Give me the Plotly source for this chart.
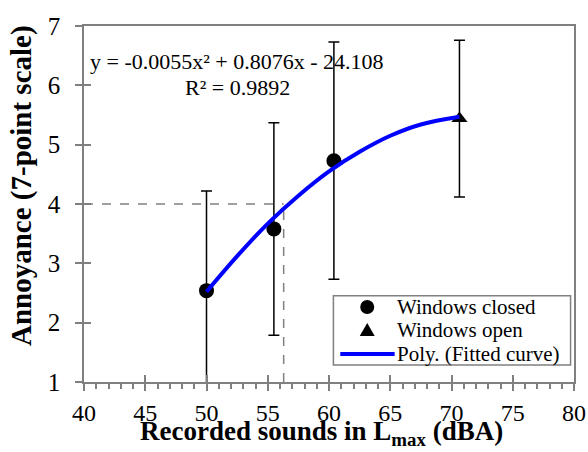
import plotly.graph_objects as go

# Data
closed_x = [50.0, 55.5, 60.4]
closed_y = [2.54, 3.58, 4.73]
closed_err = [1.68, 1.79, 2.0]

open_x = [70.65]
open_y = [5.44]
open_err = [1.32]

curve_x = [50.0, 52.5, 55.0, 57.5, 60.0, 62.5, 65.0, 67.5, 70.65]
curve_y = [2.52, 3.12, 3.67, 4.14, 4.55, 4.88, 5.15, 5.34, 5.47]

guide_x = 56.3
guide_y = 4.0

x_ticks = [40, 45, 50, 55, 60, 65, 70, 75, 80]
y_ticks = [1, 2, 3, 4, 5, 6, 7]

legend_names = ["Windows closed", "Windows open", "Poly. (Fitted curve)"]
x_title = "<b>Recorded sounds in L<sub>max</sub> (dBA)</b>"
y_title = "<b>Annoyance (7-point scale)</b>"

FONT = "Liberation Serif"
GREY = "#808080"
BLUE = "#0000FF"

fig = go.Figure()

# guide dashed lines
fig.add_trace(go.Scatter(x=[40, guide_x], y=[guide_y, guide_y], mode="lines",
                         line=dict(color=GREY, width=1.5, dash="dash"),
                         showlegend=False, hoverinfo="skip"))
fig.add_trace(go.Scatter(x=[guide_x, guide_x], y=[1, guide_y], mode="lines",
                         line=dict(color=GREY, width=1.5, dash="dash"),
                         showlegend=False, hoverinfo="skip"))

fig.add_trace(go.Scatter(x=closed_x, y=closed_y, mode="markers", name=legend_names[0],
                         marker=dict(symbol="circle", size=15, color="black"),
                         error_y=dict(type="data", array=closed_err, color="black",
                                      thickness=1.5, width=5.5),
                         showlegend=False))
fig.add_trace(go.Scatter(x=open_x, y=open_y, mode="markers", name=legend_names[1],
                         marker=dict(symbol="triangle-up", size=14, color="black"),
                         error_y=dict(type="data", array=open_err, color="black",
                                      thickness=1.5, width=5.5),
                         showlegend=False))
fig.add_trace(go.Scatter(x=curve_x, y=curve_y, mode="lines", name=legend_names[2],
                         line=dict(color=BLUE, width=4, shape="spline"),
                         showlegend=False))

# dummy trace for overlay axes (inside half of crossing ticks)
fig.add_trace(go.Scatter(x=[40], y=[1], xaxis="x2", yaxis="y2", mode="markers",
                         marker=dict(opacity=0), showlegend=False, hoverinfo="skip"))

# ---- legend box (drawn as layout decoration) ----
lg_x0, lg_x1, lg_y0, lg_y1 = 0.509, 0.993, 0.048, 0.242
sym_x = 0.578
txt_x = 0.6347
rows_y = [0.2107, 0.1447, 0.0787]

shapes = [
    dict(type="rect", xref="paper", yref="paper", x0=lg_x0, x1=lg_x1, y0=lg_y0, y1=lg_y1,
         line=dict(color=GREY, width=1.5), fillcolor="white", layer="above"),
    dict(type="circle", xref="paper", yref="paper", xsizemode="pixel", ysizemode="pixel",
         xanchor=sym_x, yanchor=rows_y[0], x0=-7, x1=7, y0=-7, y1=7,
         fillcolor="black", line=dict(color="black", width=0), layer="above"),
    dict(type="path", xref="paper", yref="paper", xsizemode="pixel", ysizemode="pixel",
         xanchor=sym_x, yanchor=rows_y[1], path="M -7.5 -5.5 L 7.5 -5.5 L 0 7.5 Z",
         fillcolor="black", line=dict(color="black", width=0), layer="above"),
    dict(type="line", xref="paper", yref="paper", x0=0.523, x1=0.634,
         y0=rows_y[2], y1=rows_y[2], line=dict(color=BLUE, width=4), layer="above"),
]

annotations = [
    dict(x=52.5, y=6.40, xref="x", yref="y", showarrow=False,
         text="y = -0.0055x² + 0.8076x - 24.108", font=dict(size=22, family=FONT)),
    dict(x=52.5, y=5.97, xref="x", yref="y", showarrow=False,
         text="R² = 0.9892", font=dict(size=22, family=FONT)),
    # axis titles
    dict(x=0.4847, y=-0.1966, xref="paper", yref="paper", showarrow=False,
         xanchor="center", yanchor="bottom", text=x_title, font=dict(size=27, family=FONT)),
    dict(x=-0.1265, y=0.5506, xref="paper", yref="paper", showarrow=False,
         xanchor="center", yanchor="middle", textangle=-90, text=y_title,
         font=dict(size=29, family=FONT)),
]
for name, ry in zip(legend_names, rows_y):
    annotations.append(dict(x=txt_x, y=ry, xref="paper", yref="paper", showarrow=False,
                            xanchor="left", yanchor="middle", text=name,
                            font=dict(size=21, family=FONT)))

fig.update_layout(
    width=588, height=452,
    margin=dict(l=84, r=14, t=26, b=70, autoexpand=False),
    plot_bgcolor="white", paper_bgcolor="white",
    font=dict(family=FONT, color="black", size=22),
    showlegend=False,
    xaxis=dict(range=[40, 80], tickvals=x_ticks, ticks="outside", ticklen=7,
               tickcolor=GREY, tickwidth=1.5, automargin=False,
               minor=dict(dtick=1, ticks="outside", ticklen=5, tickcolor=GREY, tickwidth=1.5),
               showline=True, linecolor=GREY, linewidth=1.5, mirror=True,
               showgrid=False, zeroline=False, ticklabelstandoff=1,
               tickfont=dict(size=24, family=FONT)),
    yaxis=dict(range=[1, 7], tickvals=y_ticks, ticks="outside", ticklen=7,
               tickcolor=GREY, tickwidth=1.5, automargin=False,
               showline=True, linecolor=GREY, linewidth=1.5, mirror=True,
               showgrid=False, zeroline=False, ticklabelstandoff=10,
               tickfont=dict(size=25, family=FONT)),
    xaxis2=dict(range=[40, 80], overlaying="x", anchor="y", tickvals=x_ticks,
                ticks="inside", ticklen=7, tickcolor=GREY, tickwidth=1.5, automargin=False,
                showticklabels=False, showgrid=False, zeroline=False, side="bottom"),
    yaxis2=dict(range=[1, 7], overlaying="y", anchor="x", tickvals=y_ticks,
                ticks="inside", ticklen=7, tickcolor=GREY, tickwidth=1.5, automargin=False,
                showticklabels=False, showgrid=False, zeroline=False, side="left"),
    shapes=shapes,
    annotations=annotations,
)

fig.write_html("out.html")
